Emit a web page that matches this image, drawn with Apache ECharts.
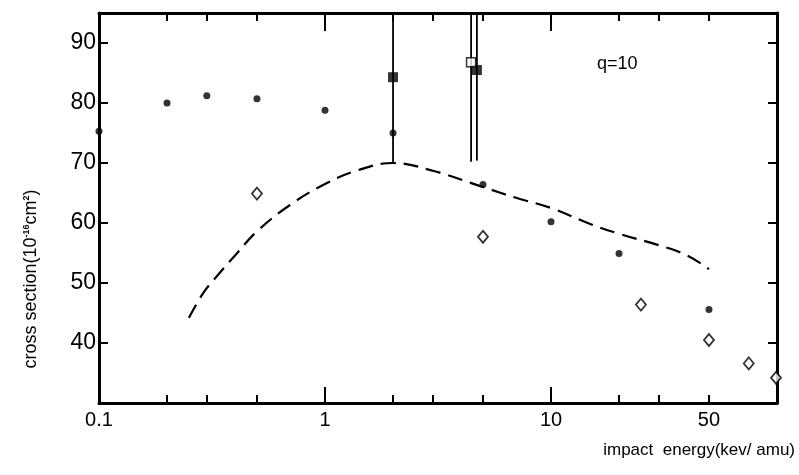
<!DOCTYPE html>
<html>
<head>
<meta charset="utf-8">
<script src="https://cdn.jsdelivr.net/npm/echarts@6/dist/echarts.min.js"></script>
<style>html,body{margin:0;padding:0;background:#fff;}#c{width:799px;height:475px;}</style>
</head>
<body>
<div id="c"></div>
<script>
// ---- data (impact energy in keV/amu, cross section in 1e-16 cm^2) ----
const dotE = [0.1, 0.2, 0.3, 0.5, 1, 2, 5, 10, 20, 50];
const dotS = [75.3, 80.0, 81.2, 80.7, 78.8, 75.0, 66.4, 60.2, 54.9, 45.6];
const diamondE = [0.5, 5, 25, 50, 75, 99];
const diamondS = [64.9, 57.7, 46.4, 40.5, 36.6, 34.2];
const filledSqE = [2, 4.7];
const filledSqS = [84.3, 85.5];
const openSqE = [4.43];
const openSqS = [86.8];
const barE = [2, 4.43, 4.7];
const barLow = [69.9, 70.2, 70.4];
const barHigh = [95, 95, 95];
const theoryE = [0.25, 0.29, 0.33, 0.4, 0.5, 0.7, 1, 1.4, 2, 3, 5, 7, 10, 15, 20, 30, 40, 50];
const theoryS = [44.2, 48.4, 51.0, 54.6, 58.6, 63.0, 66.5, 68.8, 70.0, 68.7, 66.0, 64.2, 62.5, 59.8, 58.2, 56.3, 54.6, 52.3];
const xMajorTicks = [1, 10];
const xMinorTicks = [0.2, 0.3, 0.5, 2, 3, 5, 20, 30, 50];
const xLabels = [0.1, 1, 10, 50];
const yTicks = [40, 50, 60, 70, 80, 90];

const zip = (a, b) => a.map((v, i) => [v, b[i]]);
const ink = '#000';
const font = '"Liberation Sans", Arial, sans-serif';

const baseX = (pos, ticks, len, showLine, labels) => ({
  type: 'log', logBase: 10, min: 0.1, max: 100, position: pos, gridIndex: 0,
  axisLine: { show: showLine, onZero: false, lineStyle: { color: ink, width: 3 } },
  axisTick: { show: true, inside: true, length: len, customValues: ticks, lineStyle: { color: ink, width: 2 } },
  axisLabel: labels ? { show: true, customValues: labels, color: ink, fontSize: 20, fontFamily: font, margin: 7,
    formatter: v => String(v) } : { show: false },
  splitLine: { show: false }, minorTick: { show: false }
});

const series = [];
barE.forEach((e, i) => series.push({
  type: 'line', data: [[e, barLow[i]], [e, barHigh[i]]], symbol: 'none', silent: true,
  lineStyle: { color: ink, width: 1.8 }, z: 2
}));
series.push({
  type: 'line', data: zip(theoryE, theoryS), smooth: 0.4, symbol: 'none',
  lineStyle: { color: ink, width: 2.2, type: [15, 8] }, z: 3
});
series.push({ type: 'scatter', data: zip(dotE, dotS), symbol: 'circle', symbolSize: 7,
  itemStyle: { color: ink }, z: 5, clip: false });
series.push({ type: 'scatter', data: zip(diamondE, diamondS), symbol: 'diamond', symbolSize: [10, 12],
  itemStyle: { color: '#fff', borderColor: ink, borderWidth: 1.8 }, z: 5 });
series.push({ type: 'scatter', data: zip(filledSqE, filledSqS), symbol: 'rect', symbolSize: 10,
  itemStyle: { color: ink }, z: 5 });
series.push({ type: 'scatter', data: zip(openSqE, openSqS), symbol: 'rect', symbolSize: 9,
  itemStyle: { color: '#fff', borderColor: ink, borderWidth: 1.5 }, z: 6 });

const chart = echarts.init(document.getElementById('c'), null, { renderer: 'canvas' });
chart.setOption({
  animation: false,
  backgroundColor: '#fff',
  grid: { left: 99, right: 22, top: 13, bottom: 72, containLabel: false },
  xAxis: [
    baseX('bottom', xMajorTicks, 16, true, xLabels),
    baseX('bottom', xMinorTicks, 8, false, null),
    baseX('top', xMajorTicks, 18, true, null),
    baseX('top', xMinorTicks, 8, false, null)
  ],
  yAxis: [
    { type: 'value', min: 30, max: 95, interval: 10, position: 'left',
      axisLine: { show: true, lineStyle: { color: ink, width: 3 } },
      axisTick: { show: true, inside: true, length: 9, customValues: yTicks, lineStyle: { color: ink, width: 2 } },
      axisLabel: { customValues: yTicks, color: ink, fontSize: 23, fontFamily: font, margin: 3 },
      splitLine: { show: false } },
    { type: 'value', min: 30, max: 95, interval: 10, position: 'right',
      axisLine: { show: true, lineStyle: { color: ink, width: 3 } },
      axisTick: { show: true, inside: true, length: 9, customValues: yTicks, lineStyle: { color: ink, width: 2 } },
      axisLabel: { show: false }, splitLine: { show: false } }
  ],
  series: series,
  graphic: [
    { type: 'text', left: 597, top: 55, style: { text: 'q=10', fill: ink, font: '18px ' + font } },
    { type: 'text', x: 31, y: 279, rotation: Math.PI / 2,
      style: { text: 'cross section(10{sup|-16}cm{sup|2})', fill: ink, font: '18px ' + font,
        align: 'center', verticalAlign: 'middle',
        rich: { sup: { fontSize: 9, fontWeight: 'bold', verticalAlign: 'top', padding: [0, 0, 8, 0], fill: ink, fontFamily: font } } } },
    { type: 'text', right: 4, top: 442, style: { text: 'impact  energy(kev/ amu)', fill: ink, font: '17px ' + font } }
  ]
});
</script>
</body>
</html>
